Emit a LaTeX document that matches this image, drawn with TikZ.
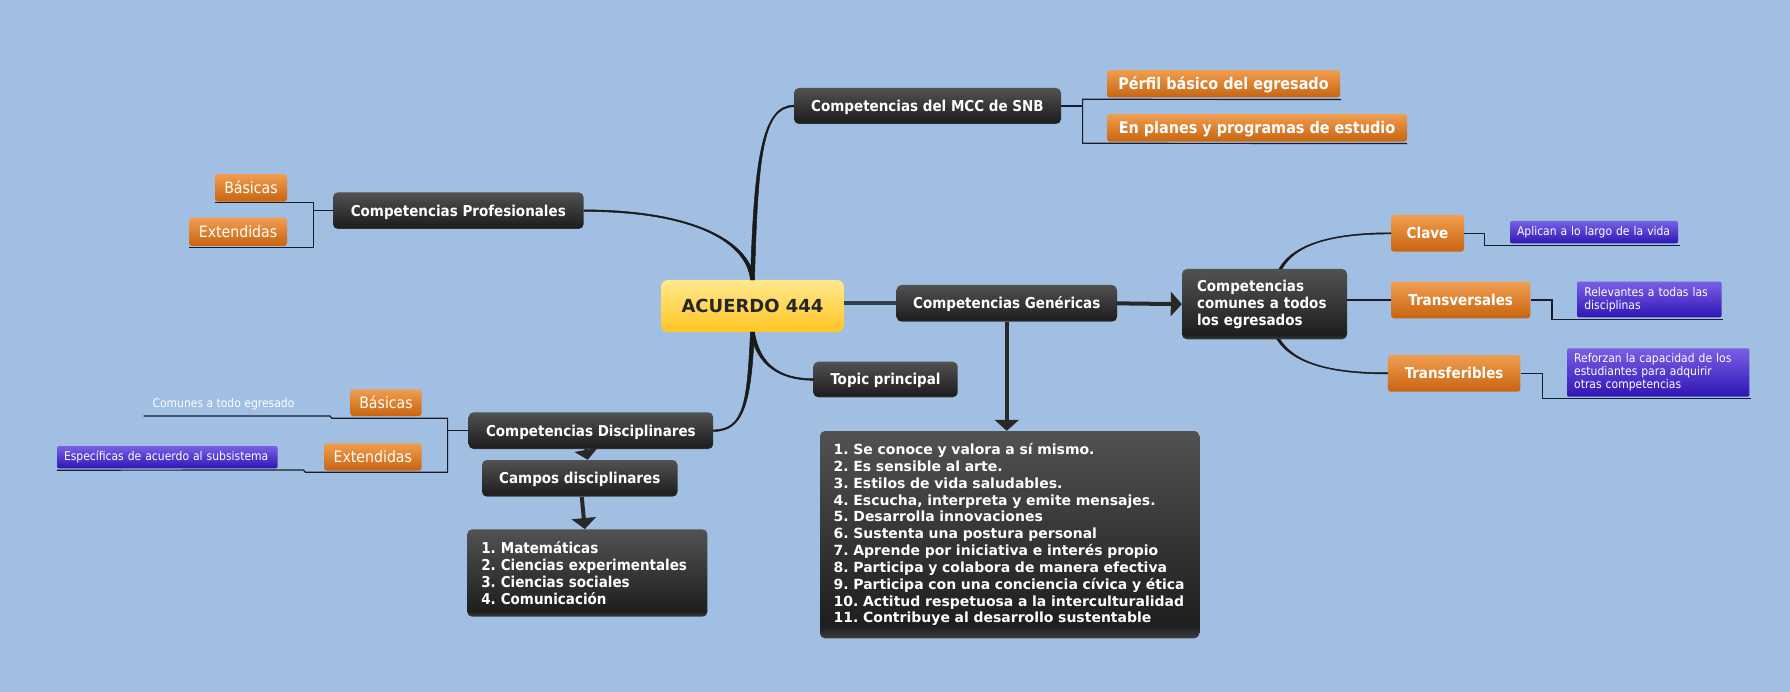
\documentclass[tikz,border=0pt]{standalone}
\usepackage{fontspec}
\usetikzlibrary{arrows.meta,calc}
\newfontfamily\tah{DejaVu Sans Condensed}
\newfontfamily\ver{DejaVu Sans}
\frenchspacing
\definecolor{bg}{RGB}{161,190,227}
\definecolor{dkA}{RGB}{82,82,82}
\definecolor{dkB}{RGB}{30,30,30}
\definecolor{dkC}{RGB}{62,62,62}
\definecolor{orT}{RGB}{240,158,80}
\definecolor{orB}{RGB}{200,100,16}
\definecolor{puT}{RGB}{122,95,228}
\definecolor{puB}{RGB}{46,22,182}
\definecolor{yeT}{RGB}{255,233,142}
\definecolor{yeB}{RGB}{255,197,34}
\definecolor{lnC}{RGB}{28,28,40}
\definecolor{brC}{RGB}{26,26,26}
\definecolor{arC}{RGB}{40,40,40}
\definecolor{acC}{RGB}{52,62,76}
\definecolor{acT}{RGB}{38,38,38}
\pgfdeclareverticalshading{darkbox}{100bp}{color(0bp)=(dkC); color(25bp)=(dkC); color(28bp)=(dkB); color(75bp)=(dkA); color(100bp)=(dkA)}
\tikzset{
  base/.style={inner sep=0pt, align=center, rounded corners=5pt},
  sz/.style 2 args={minimum width=#1, minimum height=#2},
  one/.style={text height=#1, text depth=0pt},
  dk/.style={base, shading=darkbox, text=white, font=\tah\bfseries\fontsize{15}{16.8}\selectfont},
  dklbl/.style={dk, one=10.9pt},
  yel/.style={base, rounded corners=7pt, top color=yeT, bottom color=yeB, text=acT, font=\ver\bfseries\fontsize{18}{20}\selectfont, one=13.1pt},
  orgM/.style={base, rounded corners=3pt, top color=orT, bottom color=orB, text=white, font=\tah\bfseries\fontsize{16}{18}\selectfont, one=11.7pt},
  orgB/.style={base, rounded corners=3pt, top color=orT, bottom color=orB, text=white, font=\tah\bfseries\fontsize{15}{18}\selectfont, one=10.9pt},
  orgR/.style={base, rounded corners=3pt, top color=orT, bottom color=orB, text=white, font=\tah\fontsize{15.7}{18}\selectfont, one=11.4pt},
  pur/.style={inner ysep=0pt, rounded corners=2pt, top color=puT, bottom color=puB, text=white, font=\tah\fontsize{12}{13}\selectfont, align=left},
  thinl/.style={draw=lnC, line width=1.2pt},
  taper/.style={fill=brC, draw=brC, line width=0.5pt},
  acline/.style={draw=acC, line width=4pt},
  arr/.style={draw=arC, line width=4pt, -{Triangle[length=11pt,width=24pt]}},
}
\begin{document}
\begin{tikzpicture}[x=1pt,y=-1pt]
\fill[bg] (0,0) rectangle (1790,692);
\useasboundingbox (0,0) rectangle (1790,692);

% ---------- nodes ----------
\node[yel, sz={183pt}{52pt}] (acu) at (752.5,306) {ACUERDO 444};
\node[dklbl, sz={267pt}{36pt}] (mcc) at (927.5,106) {Competencias del MCC de SNB};
\node[orgM, sz={233pt}{27.5pt}] (perf) at (1223.5,83.75) {Pérfil básico del egresado};
\node[orgM, sz={300pt}{27.7pt}] (plan) at (1257,127.85) {En planes y programas de estudio};

\node[dklbl, sz={250.6pt}{36.7pt}] (prof) at (458.3,210.65) {Competencias Profesionales};
\node[orgR, sz={72pt}{27.7pt}] (basP) at (251,187.85) {Básicas};
\node[orgR, sz={98pt}{28.3pt}] (extP) at (238,231.85) {Extendidas};

\node[dklbl, sz={220.5pt}{36.7pt}] (gen) at (1006.75,303.35) {Competencias Genéricas};
\node[dk, sz={165pt}{70.3pt}, align=left, text width=135pt, inner xsep=15pt] (com) at (1264.5,304.15) {Competencias\\comunes a todos\\los egresados};

\node[orgB, sz={73pt}{36.7pt}] (clave) at (1427.5,233.35) {Clave};
\node[pur, sz={168pt}{22.3pt}, text width=154pt, inner xsep=7pt] (apl) at (1594,232.15) {Aplican a lo largo de la vida};
\node[orgB, sz={139.4pt}{36.6pt}] (trv) at (1460.7,300) {Transversales};
\node[pur, sz={144.7pt}{35.6pt}, text width=130pt, inner xsep=7.35pt] (rel) at (1649.35,299.5) {Relevantes a todas las\\disciplinas};
\node[orgB, sz={132.6pt}{36.7pt}] (trf) at (1454.1,373.35) {Transferibles};
\node[pur, sz={182.4pt}{48.4pt}, text width=168pt, inner xsep=7.2pt] (ref) at (1658.2,372.5) {Reforzan la capacidad de los\\estudiantes para adquirir\\otras competencias};

\node[dklbl, sz={144.4pt}{35.6pt}] (top) at (885.5,379.5) {Topic principal};

\node[dk, sz={379.3pt}{207.3pt}, align=left, text width=352pt, inner xsep=13.65pt, font=\ver\bfseries\fontsize{14}{16.83}\selectfont] (gl) at (1009.65,534.65) {1. Se conoce y valora a sí mismo.\\2. Es sensible al arte.\\3. Estilos de vida saludables.\\4. Escucha, interpreta y emite mensajes.\\5. Desarrolla innovaciones\\6. Sustenta una postura personal\\7. Aprende por iniciativa e interés propio\\8. Participa y colabora de manera efectiva\\9. Participa con una conciencia cívica y ética\\10. Actitud respetuosa a la interculturalidad\\11. Contribuye al desarrollo sustentable};

\node[dklbl, sz={244.6pt}{36.7pt}] (dis) at (590.9,430.65) {Competencias Disciplinares};
\node[orgR, sz={71.4pt}{26.7pt}] (basD) at (386,402.65) {Básicas};
\node[orgR, sz={97.7pt}{27.4pt}] (extD) at (372.85,457) {Extendidas};
\node[text=white, font=\tah\fontsize{12}{13}\selectfont, inner sep=0pt] (cnote) at (223.5,404.3) {Comunes a todo egresado};
\node[pur, sz={220.5pt}{22.3pt}, text width=206.5pt, inner xsep=7pt] (esp) at (167.25,457.15) {Específicas de acuerdo al subsistema};
\node[dklbl, sz={195.5pt}{36.7pt}] (cam) at (579.75,478.35) {Campos disciplinares};
\node[dk, sz={240.2pt}{87.4pt}, align=left, text width=212pt, inner xsep=14.1pt] (sl) at (587.3,573) {1. Matemáticas\\2. Ciencias experimentales\\3. Ciencias sociales\\4. Comunicación};

% ---------- tapered branches from ACUERDO ----------
\fill[taper] ($(acu.north)+(-2,0)$) .. controls (754,160) and (762,105.2) .. ($(mcc.west)+(0,-0.8)$)
  -- ($(mcc.west)+(0,0.8)$) .. controls (762,106.8) and (758,160) .. ($(acu.north)+(2,0)$) -- cycle;
\fill[taper] ($(acu.north)+(-2,0)$) .. controls (746,240) and (690,211.45) .. ($(prof.east)+(0,0.8)$)
  -- ($(prof.east)+(0,-0.8)$) .. controls (690,209.85) and (750,240) .. ($(acu.north)+(2,0)$) -- cycle;
\fill[taper] ($(acu.south)+(-2,0)$) .. controls (756,365) and (780,380.3) .. ($(top.west)+(0,0.8)$)
  -- ($(top.west)+(0,-0.8)$) .. controls (780,378.7) and (760,365) .. ($(acu.south)+(2,0)$) -- cycle;
\fill[taper] ($(acu.south)+(2,0)$) .. controls (751,400) and (745,431.45) .. ($(dis.east)+(0,0.8)$)
  -- ($(dis.east)+(0,-0.8)$) .. controls (745,429.85) and (747,400) .. ($(acu.south)+(-2,0)$) -- cycle;

% ---------- tapered branches from Comunes ----------
\fill[taper] ($(com.north)+(14.5,0)$) .. controls (1293.5,243) and (1335,232.75) .. ($(clave.west)+(0,-0.6)$)
  -- ($(clave.west)+(0,0.6)$) .. controls (1335,233.95) and (1296.5,243) .. ($(com.north)+(17.5,0)$) -- cycle;
\fill[taper] ($(com.south)+(12.5,0)$) .. controls (1293.5,365) and (1335,373.95) .. ($(trf.west)+(0,0.6)$)
  -- ($(trf.west)+(0,-0.6)$) .. controls (1335,372.75) and (1296.5,365) .. ($(com.south)+(15.5,0)$) -- cycle;
\draw[thinl] (com.east |- trv.west) -- (trv.west);

% ---------- straight connectors ----------
\draw[acline] (gen.west -| acu.east) -- (gen.west);
\draw[arr] (gen.east) -- (com.west);
\draw[arr] (gen.south) -- (gen.south |- gl.north);
\draw[arr, -{Triangle[length=10pt,width=23pt]}] ($(dis.south)+(-5,0)$) -- ($(cam.north)+(8,0)$);
\draw[arr] ($(cam.south)+(2,0)$) -- ($(sl.north)+(-2.5,0)$);

% ---------- note connectors ----------
\draw[thinl] (clave.east) -- ++(20.6,0) |- ($(apl.south east)+(1.5,1.7)$);
\draw[thinl] (trv.east) -- ++(21.3,0) |- ($(rel.south east)+(1,1.7)$);
\draw[thinl] (trf.east) -- ++(22.1,0) |- ($(ref.south east)+(1.2,1.6)$);

% MCC bracket
\coordinate (mt) at (1082.6,99.3);
\coordinate (mb) at (1082.6,143.3);
\draw[thinl] (mcc.east) -- (mcc.east -| mt);
\draw[thinl] ($(perf.south east)+(1,1.8)$) -- (mt) -- (mb) -- ($(plan.south east)+(0,1.6)$);

% Profesionales bracket
\coordinate (pt) at (313.2,202.7);
\coordinate (pb) at (313.2,247.3);
\draw[thinl] (prof.west) -- (prof.west -| pt);
\draw[thinl] (basP.south west |- pt) -- (pt) -- (pb) -- (extP.south west |- pb);

% Disciplinares bracket
\coordinate (dt) at (447.6,418.3);
\coordinate (db) at (447.6,472.3);
\coordinate (cu) at (143.6,416);
\draw[thinl] (dis.west) -- (dis.west -| dt);
\draw[thinl] (cu) -- (330,416) -- (332,418.3) -- (dt) -- (db) -- (305.4,472.3) -- (303.4,470) -- ($(esp.south west)+(0,1.7)$);
\end{tikzpicture}
\end{document}
